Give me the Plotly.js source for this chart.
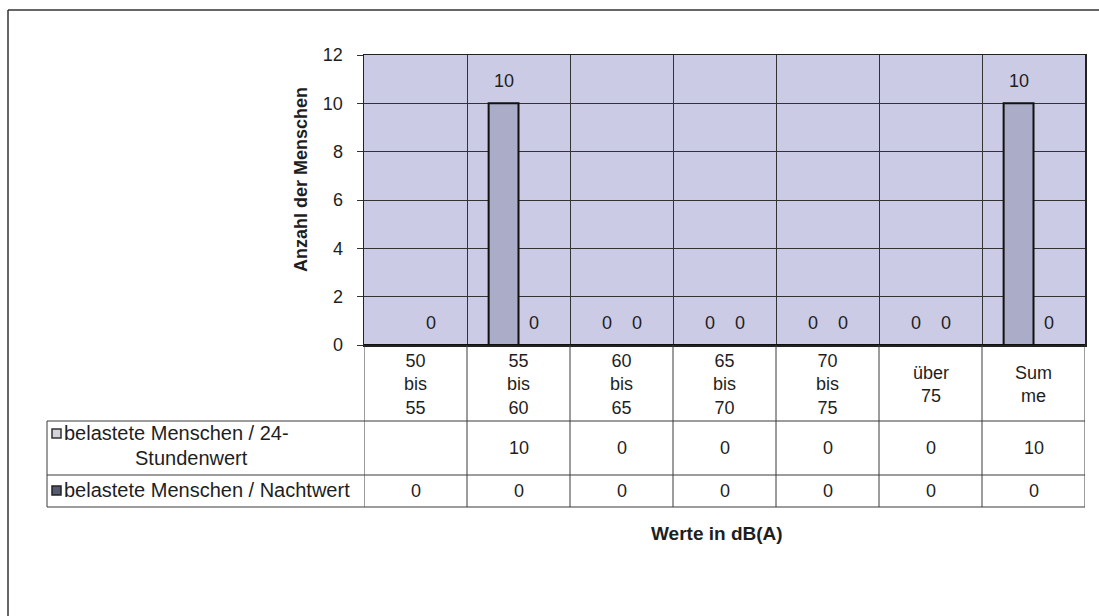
<!DOCTYPE html>
<html>
<head>
<meta charset="utf-8">
<script src="https://cdn.plot.ly/plotly-3.0.1.min.js"></script>
<style>html,body{margin:0;padding:0;background:#fff;}#chart{width:1099px;height:616px;}</style>
</head>
<body>
<div id="chart"></div>
<script>
// ---- data ----
const categories = ["50 bis 55", "55 bis 60", "60 bis 65", "65 bis 70", "70 bis 75", "über 75", "Summe"];
const categoryLabels = ["50<br>bis<br>55", "55<br>bis<br>60", "60<br>bis<br>65", "65<br>bis<br>70", "70<br>bis<br>75", "über<br>75", "Sum<br>me"];
const seriesNames = ["belastete Menschen / 24-Stundenwert", "belastete Menschen / Nachtwert"];
const legendLines24h = ["belastete Menschen / 24-", "Stundenwert"];
const values24h = [null, 10, 0, 0, 0, 0, 10];
const valuesNight = [0, 0, 0, 0, 0, 0, 0];
const yTitle = "Anzahl der Menschen";
const xTitle = "Werte in dB(A)";

// ---- layout helpers (pixel -> paper) ----
const PL = 364, PR = 1085, PT = 55, PB = 345;
const px = x => (x - PL) / (PR - PL);
const py = y => (PB - y) / (PB - PT);

const FONT = "Liberation Sans, Arial, sans-serif";
const TXT = "#1e1e1e";
const LINE = "#3a3a3a";

const traces = [
  {
    type: "bar", name: seriesNames[0], x: categories, y: values24h,
    marker: {color: "#aaacc8", line: {color: "#111", width: 2}},
    hoverinfo: "skip"
  },
  {
    type: "bar", name: seriesNames[1], x: categories, y: valuesNight,
    marker: {color: "#5a5e78", line: {color: "#111", width: 2}},
    hoverinfo: "skip"
  }
];

const shapes = [];
const annotations = [];

// outer chart frame
shapes.push({type: "line", xref: "paper", yref: "paper", x0: px(8), x1: px(1110), y0: py(10), y1: py(10), line: {color: "#333", width: 1.5}});
shapes.push({type: "line", xref: "paper", yref: "paper", x0: px(8), x1: px(8), y0: py(10), y1: py(630), line: {color: "#333", width: 1.5}});

// data table grid
const yRow0 = py(421), yRow1 = py(475), yRow2 = py(507);
categories.forEach((c, i) => {
  shapes.push({type: "line", xref: "x", yref: "paper", x0: i - 0.5, x1: i - 0.5, y0: 0, y1: yRow2, line: {color: LINE, width: 1}});
});
shapes.push({type: "line", xref: "x", yref: "paper", x0: categories.length - 0.5, x1: categories.length - 0.5, y0: 0, y1: yRow2, line: {color: LINE, width: 1}});
shapes.push({type: "line", xref: "paper", yref: "paper", x0: px(47), x1: px(47), y0: yRow0, y1: yRow2, line: {color: LINE, width: 1}});
[yRow0, yRow1, yRow2].forEach(yy => {
  shapes.push({type: "line", xref: "paper", yref: "paper", x0: px(47), x1: 1, y0: yy, y1: yy, line: {color: LINE, width: 1}});
});

// legend keys
shapes.push({type: "rect", xref: "paper", yref: "paper", x0: px(52), x1: px(61), y0: py(429), y1: py(438), fillcolor: "#d4d4dc", line: {color: "#333", width: 1.5}});
shapes.push({type: "rect", xref: "paper", yref: "paper", x0: px(52), x1: px(61), y0: py(486), y1: py(495), fillcolor: "#555a70", line: {color: "#222", width: 1.5}});

// legend texts
const lf = {family: FONT, size: 20, color: TXT};
annotations.push({xref: "paper", yref: "paper", x: px(62), y: py(433), xanchor: "left", yanchor: "middle", text: legendLines24h[0], showarrow: false, font: lf});
annotations.push({xref: "paper", yref: "paper", x: px(133), y: py(458), xanchor: "left", yanchor: "middle", text: legendLines24h[1], showarrow: false, font: lf});
annotations.push({xref: "paper", yref: "paper", x: px(62), y: py(490), xanchor: "left", yanchor: "middle", text: seriesNames[1], showarrow: false, font: lf});

// category labels (table header row)
categoryLabels.forEach((lab, i) => {
  annotations.push({xref: "x", yref: "paper", x: categories[i], y: py(384), xanchor: "center", yanchor: "middle", text: lab, showarrow: false, font: {family: FONT, size: 18, color: TXT}});
});

// table values + bar labels
const vf = {family: FONT, size: 18, color: TXT};
values24h.forEach((v, i) => {
  if (v === null) return;
  annotations.push({xref: "x", yref: "paper", x: categories[i], y: py(448), yanchor: "middle", text: String(v), showarrow: false, font: vf});
  annotations.push({xref: "x", yref: "y", x: categories[i], y: v, xshift: -15, yshift: 22, yanchor: "middle", text: String(v), showarrow: false, font: vf});
});
valuesNight.forEach((v, i) => {
  if (v === null) return;
  annotations.push({xref: "x", yref: "paper", x: categories[i], y: py(491), yanchor: "middle", text: String(v), showarrow: false, font: vf});
  annotations.push({xref: "x", yref: "y", x: categories[i], y: v, xshift: 15, yshift: 22, yanchor: "middle", text: String(v), showarrow: false, font: vf});
});

// axis titles
annotations.push({xref: "paper", yref: "paper", x: px(301), y: py(180), textangle: -90, xanchor: "center", yanchor: "middle", text: "<b>" + yTitle + "</b>", showarrow: false, font: {family: FONT, size: 18, color: TXT}});
annotations.push({xref: "paper", yref: "paper", x: px(717), y: py(533), xanchor: "center", yanchor: "middle", text: "<b>" + xTitle + "</b>", showarrow: false, font: {family: FONT, size: 19, color: TXT}});

const layout = {
  width: 1099, height: 616,
  margin: {l: PL, r: 1099 - PR, t: PT, b: 616 - PB, pad: 0},
  paper_bgcolor: "#ffffff",
  plot_bgcolor: "#cbcbe5",
  showlegend: false,
  barmode: "group",
  bargap: 0.42,
  bargroupgap: 0,
  font: {family: FONT, size: 18, color: TXT},
  xaxis: {
    type: "category", categoryorder: "array", categoryarray: categories,
    tickson: "boundaries", showgrid: true, gridcolor: "#333", gridwidth: 1,
    showticklabels: false, ticks: "",
    showline: true, linecolor: "#222", linewidth: 1.5, mirror: true,
    range: [-0.5, categories.length - 0.5], fixedrange: true
  },
  yaxis: {
    range: [0, 12], dtick: 2, tick0: 0,
    showgrid: true, gridcolor: "#333", gridwidth: 1,
    zeroline: true, zerolinecolor: "#111", zerolinewidth: 1.5,
    showline: true, linecolor: "#222", linewidth: 1.5, mirror: true,
    ticks: "outside", ticklen: 6, tickcolor: "#333",
    ticklabelstandoff: 10,
    tickfont: {family: FONT, size: 18, color: TXT}, fixedrange: true
  },
  shapes: shapes,
  annotations: annotations
};

Plotly.newPlot("chart", traces, layout, {displayModeBar: false, staticPlot: true});
</script>
</body>
</html>
